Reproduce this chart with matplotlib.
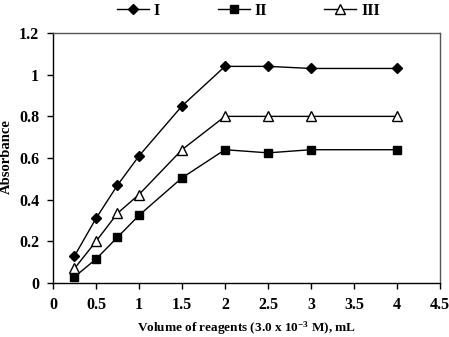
import matplotlib.pyplot as plt

plt.rcParams['font.family'] = ['Liberation Serif', 'DejaVu Serif']
plt.rcParams['font.weight'] = 'bold'
plt.rcParams['mathtext.fontset'] = 'custom'
plt.rcParams['mathtext.rm'] = 'Liberation Serif:bold'
plt.rcParams['mathtext.bf'] = 'Liberation Serif:bold'
plt.rcParams['mathtext.default'] = 'bf'

volume = [0.25, 0.5, 0.75, 1, 1.5, 2, 2.5, 3, 4]
abs_1 = [0.13, 0.31, 0.47, 0.61, 0.85, 1.04, 1.04, 1.03, 1.03]
abs_2 = [0.03, 0.115, 0.22, 0.325, 0.505, 0.64, 0.625, 0.64, 0.64]
abs_3 = [0.07, 0.20, 0.335, 0.425, 0.64, 0.80, 0.80, 0.80, 0.80]

fig = plt.figure(figsize=(4.49, 3.37), dpi=100)
ax = fig.add_axes([0.118, 0.160, 0.862, 0.742])

ax.plot(volume, abs_1, color='black', marker='D', ms=5, lw=1, label='I')
ax.plot(volume, abs_2, color='black', marker='s', ms=6, lw=1, label='II')
ax.plot(volume, abs_3, color='black', marker='^', ms=7, lw=1,
        markerfacecolor='white', label='III')

ax.set_xlim(0, 4.5)
ax.set_ylim(0, 1.2)
ax.set_xticks([0, 0.5, 1, 1.5, 2, 2.5, 3, 3.5, 4, 4.5])
ax.set_xticklabels(['0', '0.5', '1', '1.5', '2', '2.5', '3', '3.5', '4', '4.5'])
ax.set_yticks([0, 0.2, 0.4, 0.6, 0.8, 1, 1.2])
ax.set_yticklabels(['0', '0.2', '0.4', '0.6', '0.8', '1', '1.2'])
ax.tick_params(direction='out', length=4, labelsize=11.5, width=1, pad=6)
for s in ax.spines.values():
    s.set_linewidth(1)
ax.spines['top'].set_color('#555555')
ax.spines['right'].set_color('#555555')

ax.set_xlabel('Volume of reagents (3.0 x 10$^{-3}$ M), mL', fontsize=9.5,
              fontweight='bold', va='center')
ax.xaxis.set_label_coords(0.5, -0.18)
ax.set_ylabel('Absorbance', fontsize=10.5, fontweight='bold', va='center')
ax.yaxis.set_label_coords(-0.121, 0.506)

ax.legend(loc='center', bbox_to_anchor=(0.505, 1.09), ncol=3, frameon=False,
          fontsize=11.5, columnspacing=3.6, handlelength=2.0, handletextpad=0.3,
          borderaxespad=0)

fig.savefig('out.png', dpi=100)
